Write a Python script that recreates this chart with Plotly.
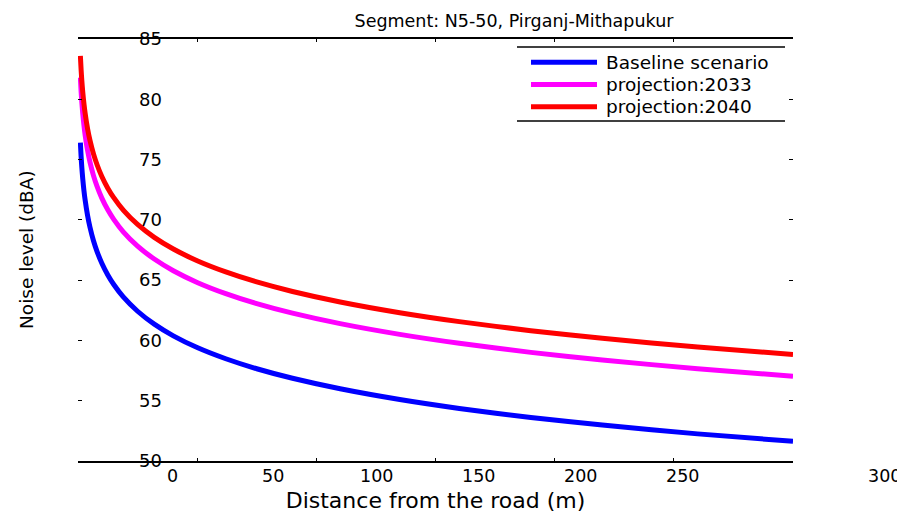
import plotly.graph_objects as go

# ---- data ----
distance_m = [1, 1.3, 1.6, 2, 2.5, 3, 4, 5, 6.5, 8, 10, 12.5, 15, 19, 25, 32, 40, 50, 62, 75,
              90, 110, 135, 160, 190, 220, 260, 300]
baseline = [76.40, 75.26, 74.36, 73.39, 72.42, 71.63, 70.38, 69.41, 68.27, 67.37, 66.40, 65.43,
            64.64, 63.61, 62.42, 61.35, 60.38, 59.41, 58.48, 57.65, 56.86, 55.99, 55.10, 54.36,
            53.61, 52.98, 52.25, 51.63]
proj_2033 = [81.80, 80.66, 79.76, 78.79, 77.82, 77.03, 75.78, 74.81, 73.67, 72.77, 71.80, 70.83,
             70.04, 69.01, 67.82, 66.75, 65.78, 64.81, 63.88, 63.05, 62.26, 61.39, 60.50, 59.76,
             59.01, 58.38, 57.65, 57.03]
proj_2040 = [83.60, 82.46, 81.56, 80.59, 79.62, 78.83, 77.58, 76.61, 75.47, 74.57, 73.60, 72.63,
             71.84, 70.81, 69.62, 68.55, 67.58, 66.61, 65.68, 64.85, 64.06, 63.19, 62.30, 61.56,
             60.81, 60.18, 59.45, 58.83]

series_names = ["Baseline scenario", "projection:2033", "projection:2040"]
series_colors = ["#0000FF", "#FF00FF", "#FF0000"]

x_tick_vals = [0, 50, 100, 150, 200, 250, 300]
x_tick_labels = ["0", "50", "100", "150", "200", "250", "300"]
y_tick_vals = [50, 55, 60, 65, 70, 75, 80, 85]

title_text = "Segment: N5-50, Pirganj-Mithapukur"
x_title = "Distance from the road (m)"
y_title = "Noise level (dBA)"

# ---- layout geometry (pixels, page offset of 8 px removed) ----
OFF = 8
W, H = 905, 512
L, R, T, B = 78 - OFF, 793 - OFF, 39 - OFF, 461 - OFF
FONT = "DejaVu Sans"


def px(xp):
    return (xp - OFF - L) / (R - L)


def py(yp):
    return (B - (yp - OFF)) / (B - T)


fig = go.Figure()
for name, vals, col in zip(series_names, [baseline, proj_2033, proj_2040], series_colors):
    fig.add_trace(go.Scatter(x=distance_m, y=vals, mode="lines", name=name,
                             line=dict(color=col, width=5, shape="spline", smoothing=0.8),
                             showlegend=False))

fig.update_layout(
    width=W, height=H,
    margin=dict(l=L, r=W - R, t=T, b=H - B, pad=0),
    plot_bgcolor="white", paper_bgcolor="white",
    font=dict(family=FONT, size=18, color="black"),
    title=dict(text=title_text, x=(514 - OFF) / W, xanchor="center", y=1 - (21 - OFF) / H,
               yanchor="middle", font=dict(family=FONT, size=17.5, color="black")),
    xaxis=dict(range=[0, 300], tickvals=x_tick_vals, showticklabels=False,
               ticks="inside", ticklen=3, tickwidth=1, tickcolor="black",
               showline=True, linecolor="black", linewidth=1.5, mirror="ticks",
               showgrid=False, zeroline=False,
               title=dict(text=x_title, standoff=31, font=dict(family=FONT, size=22))),
    yaxis=dict(range=[50, 85], tickvals=y_tick_vals, ticks="inside", ticklen=4, tickwidth=1,
               tickcolor="black", showline=False, mirror="ticks", showgrid=False, zeroline=False,
               showticklabels=False),
    yaxis2=dict(range=[50, 85], tickvals=y_tick_vals, overlaying="y", anchor="free",
                position=px(162), side="left", ticks="", showline=False, showgrid=False,
                zeroline=False, tickfont=dict(family=FONT, size=18, color="black")),
)

# invisible trace so that the label axis is drawn
fig.add_trace(go.Scatter(x=[None], y=[None], yaxis="y2", showlegend=False, hoverinfo="skip"))

# y axis title
fig.add_annotation(text=y_title, textangle=-90, x=px(26), y=py(250), xref="paper", yref="paper",
                   xanchor="center", yanchor="middle", showarrow=False,
                   font=dict(family=FONT, size=18.5, color="black"))

# misplaced x tick labels as in the reference figure
label_px = [172, 273, 376, 478, 580, 682, 884]
for lab, xp in zip(x_tick_labels, label_px):
    fig.add_annotation(text=lab, x=px(xp), y=py(476), xref="paper", yref="paper",
                       xanchor="center", yanchor="middle", showarrow=False,
                       font=dict(family=FONT, size=17.5, color="black"))

# legend box (top and bottom rules only)
for yl in (47, 121):
    fig.add_shape(type="line", xref="paper", yref="paper", x0=px(517), x1=px(785), y0=py(yl), y1=py(yl),
                  line=dict(color="black", width=1.5))
for name, col, yl in zip(series_names, series_colors, (62.3, 84.5, 106.7)):
    fig.add_shape(type="line", xref="paper", yref="paper", x0=px(531), x1=px(597), y0=py(yl), y1=py(yl),
                  line=dict(color=col, width=5))
    fig.add_annotation(text=name, x=px(604), y=py(yl), xref="paper", yref="paper",
                       xanchor="left", yanchor="middle", showarrow=False,
                       font=dict(family=FONT, size=18.5, color="black"))

fig.write_html("out.html")
